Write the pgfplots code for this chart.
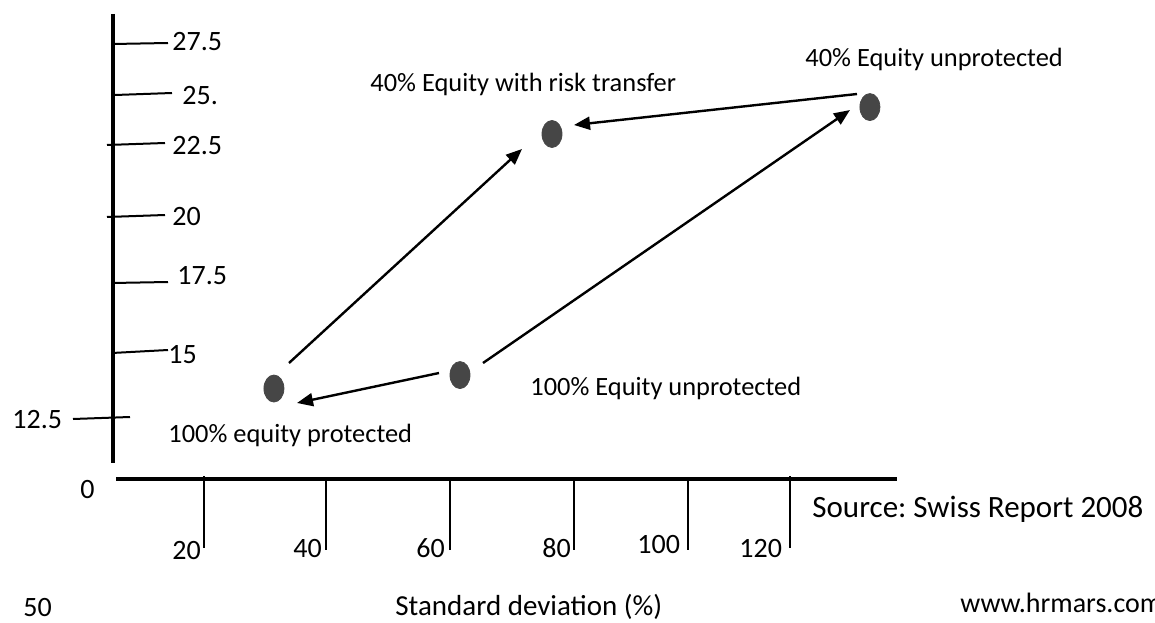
\documentclass[border=0pt]{standalone}
\usepackage{pgfplots}
\pgfplotsset{compat=1.18}
\usepackage{fontspec}
\setmainfont{Carlito}
\usetikzlibrary{arrows.meta}
\definecolor{dotgray}{RGB}{70,70,70}
\frenchspacing
\begin{document}
\begin{tikzpicture}
\begin{axis}[
  at={(0,0)}, anchor=south west,
  scale only axis, width=577.5pt, height=311pt,
  xmin=-14.846, xmax=182.253, ymin=4.315, ymax=29.265,
  axis lines=none, ticks=none, clip=false,
]
% standard deviation (%) vs return
\addplot[only marks, mark=*, mark size=5pt, color=dotgray,
  mark options={yscale=1.35}] coordinates {
  (31.9,13.68) (63.65,14.22) (79.35,23.89) (133.6,24.97)
};
\end{axis}
\begin{scope}[x=0.5pt, y=-0.5pt, shift={(0,311pt)}]
  % axes
  \draw[line width=1.65pt] (113,14) -- (113,463);
  \draw[line width=1.65pt] (116,479) -- (897,479);
  % y tick lines
  \begin{scope}[line width=1pt]
  \draw (113,44) -- (168,43);
  \draw (115,95) -- (172,93);
  \draw (107,145) -- (165,143);
  \draw (107,217) -- (165,215);
  \draw (112,283) -- (168,282);
  \draw (112,353) -- (168,350);
  \draw (73,419) -- (130,417);
  % x tick lines
  \draw (204,476) -- (204,548);
  \draw (326,479) -- (326,550);
  \draw (450,479) -- (450,550);
  \draw (574,479) -- (574,550);
  \draw (688,479) -- (688,550);
  \draw (790,476) -- (790,548);
  \end{scope}
  % arrows
  \begin{scope}[line width=1.2pt, -{Triangle[length=8pt,width=6.5pt]}]
  \draw (289,363) -- (522,149);
  \draw (483,363) -- (850,110);
  \draw (857,94) -- (574,125);
  \draw (439,373) -- (297,403);
  \end{scope}
  % tick labels
  \begin{scope}[every node/.style={anchor=base west, inner sep=0pt, font=\fontsize{14pt}{16pt}\selectfont}]
  \node at (172,51) {27.5};
  \node at (182,105) {25.};
  \node at (172,155) {22.5};
  \node at (172,226) {20};
  \node at (177,285) {17.5};
  \node at (168,363) {15};
  \node at (12,428) {12.5};
  \node at (80,498) {0};
  \node at (172,559) {20};
  \node at (293,557) {40};
  \node at (416,557) {60};
  \node at (542,557) {80};
  \node at (637,553) {100};
  \node at (739,557) {120};
  \node at (23,616) {50};
  \end{scope}
  % texts
  \begin{scope}[every node/.style={anchor=base west, inner sep=0pt, font=\fontsize{13.2pt}{15pt}\selectfont}]
  \node at (805,67) {40\% Equity unprotected};
  \node at (370,92) {40\% Equity with risk transfer};
  \node at (530,395) {100\% Equity unprotected};
  \node at (168,442) {100\% equity protected};
  \end{scope}
  \node[anchor=base west, inner sep=0pt, font=\fontsize{14.5pt}{16pt}\selectfont] at (395,615) {Standard deviation (\%)};
  \node[anchor=base west, inner sep=0pt, font=\fontsize{15.5pt}{18pt}\selectfont] at (812,517) {Source: Swiss Report 2008};
  \node[anchor=base west, inner sep=0pt, font=\fontsize{14pt}{16pt}\selectfont] at (960,612) {www.hrmars.com};
\end{scope}
\pgfresetboundingbox
\useasboundingbox (0,0) rectangle (577.5pt,311pt);
\end{tikzpicture}
\end{document}
